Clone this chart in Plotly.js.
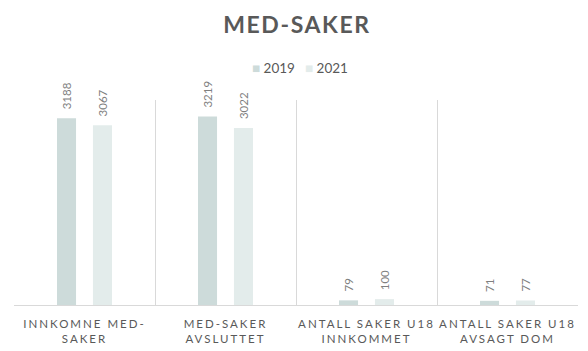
<!DOCTYPE html>
<html><head><meta charset="utf-8">
<script src="https://cdn.plot.ly/plotly-3.0.1.min.js"></script>
<style>
html,body{margin:0;padding:0;background:#fff;}
#chart{width:588px;height:351px;}
.xtick text{letter-spacing:2px;}
.gtitle{letter-spacing:1.6px;}
</style></head>
<body><div id="chart"></div>
<script>
const categories = ["INNKOMNE MED-<br>SAKER", "MED-SAKER<br>AVSLUTTET", "ANTALL SAKER U18<br>INNKOMMET", "ANTALL SAKER U18<br>AVSAGT DOM"];
const seriesNames = ["2019", "2021"];
const values2019 = [3188, 3219, 79, 71];
const values2021 = [3067, 3022, 100, 77];
const colors = ["#CDDBDA", "#E3ECEB"];

const mk = (name, vals, color) => ({
  type: "bar", name: name, x: categories, y: vals,
  marker: {color: color},
  text: vals.map(v => "\u00a0\u00a0" + v), textposition: "outside", textangle: -90, constraintext: "none",
  textfont: {family: "Lato, 'Open Sans', sans-serif", size: 11.5, color: "#7F7F7F"},
  cliponaxis: false, hoverinfo: "none", showlegend: false
});

const data = [mk(seriesNames[0], values2019, colors[0]), mk(seriesNames[1], values2021, colors[1])];

// legend entries drawn as text (series name with a coloured square key)
const legendX = [0.4184, 0.5124];
const annotations = seriesNames.map((n, i) => ({
  xref: "paper", yref: "paper", x: legendX[i], y: 1.156, xanchor: "left", yanchor: "middle",
  showarrow: false,
  text: "<span style='color:" + colors[i] + "'>■</span> " + n,
  font: {family: "Lato, 'Open Sans', sans-serif", size: 13.5, color: "#595959"}
}));

const layout = {
  width: 588, height: 351,
  margin: {l: 14, r: 10, t: 100, b: 46},
  paper_bgcolor: "#fff", plot_bgcolor: "#fff",
  title: {text: "<b>MED-SAKER</b>", x: 0.505, xanchor: "center", y: 0.93, yanchor: "middle",
          font: {family: "Lato, 'Open Sans', sans-serif", size: 23, color: "#595959"}},
  showlegend: false,
  annotations: annotations,
  barmode: "group", bargap: 0.49, bargroupgap: 0.47,
  xaxis: {type: "category", tickson: "boundaries", showgrid: true, gridcolor: "#D9D9D9", gridwidth: 1,
          showline: true, linecolor: "#D9D9D9", linewidth: 1, ticks: "", ticklabelstandoff: 8,
          tickfont: {family: "Lato, 'Open Sans', sans-serif", size: 11.5, color: "#595959"},
          fixedrange: true},
  yaxis: {range: [0, 3500], showgrid: false, zeroline: false, showticklabels: false, showline: false, fixedrange: true}
};

Plotly.newPlot("chart", data, layout, {displayModeBar: false, staticPlot: true});
</script></body></html>
